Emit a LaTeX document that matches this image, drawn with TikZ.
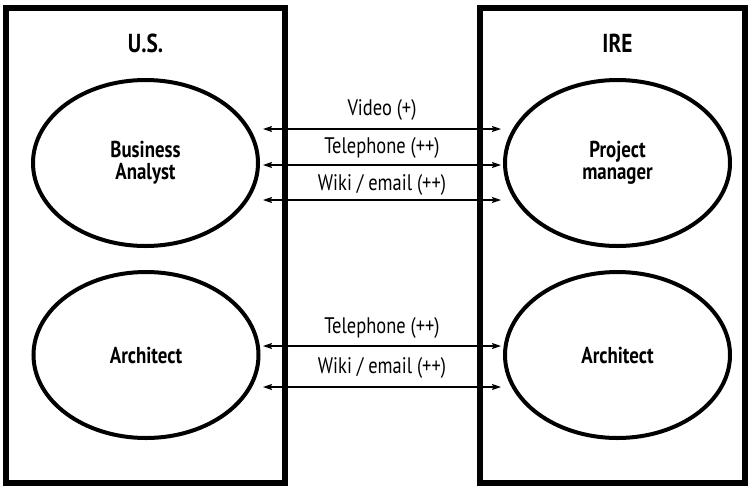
\documentclass[tikz,border=0pt]{standalone}
\usepackage{fontspec}
\setmainfont{PT Sans}[FakeStretch=0.82]
\usetikzlibrary{shapes.geometric,arrows.meta}
\tikzset{
  sitebox/.style={draw,line width=6pt},
  role/.style={ellipse,draw,line width=4pt,minimum width=225pt,minimum height=166pt,
    inner sep=0pt,align=center,font=\fontsize{23}{22}\selectfont\bfseries},
  sitetitle/.style={font=\fontsize{26}{28}\selectfont\bfseries},
  link/.style={{Stealth[length=9pt,width=6pt,inset=1.5pt]}-{Stealth[length=9pt,width=6pt,inset=1.5pt]},line width=1.2pt},
  linklabel/.style={font=\fontsize{22.5}{24}\selectfont}
}
\begin{document}
\begin{tikzpicture}[x=1pt,y=-1pt]
\useasboundingbox (0,0) rectangle (751,488);
% the two sites
\draw[sitebox] (6,8) rectangle (285,483);
\draw[sitebox] (480,8) rectangle (745,483);
\node[sitetitle] (us) at (145.5,43) {U.S.};
\node[sitetitle] (ire) at (617.5,43) {IRE};
% roles
\node[role] (ba) at (145.5,163) {Business\\Analyst};
\node[role] (pm) at (617.5,163) {Project\\manager};
\node[role] (archus) at (146,355) {Architect};
\node[role] (archire) at (617.5,355) {Architect};
% channel end points
\foreach \n/\y in {a/129,b/165,c/200,d/346,e/387}{
  \coordinate (\n l) at (263,\y);
  \coordinate (\n r) at (501,\y);
}
\draw[link] (al) -- (ar);
\draw[link] (bl) -- (br);
\draw[link] (cl) -- (cr);
\draw[link] (dl) -- (dr);
\draw[link] (el) -- (er);
% channel labels
\node[linklabel] (lv) at (382,110) {Video (+)};
\node[linklabel] (lt1) at (382,148) {Telephone (++)};
\node[linklabel] (lw1) at (382,185) {Wiki / email (++)};
\node[linklabel] (lt2) at (382,328) {Telephone (++)};
\node[linklabel] (lw2) at (382,368) {Wiki / email (++)};
\end{tikzpicture}
\end{document}
